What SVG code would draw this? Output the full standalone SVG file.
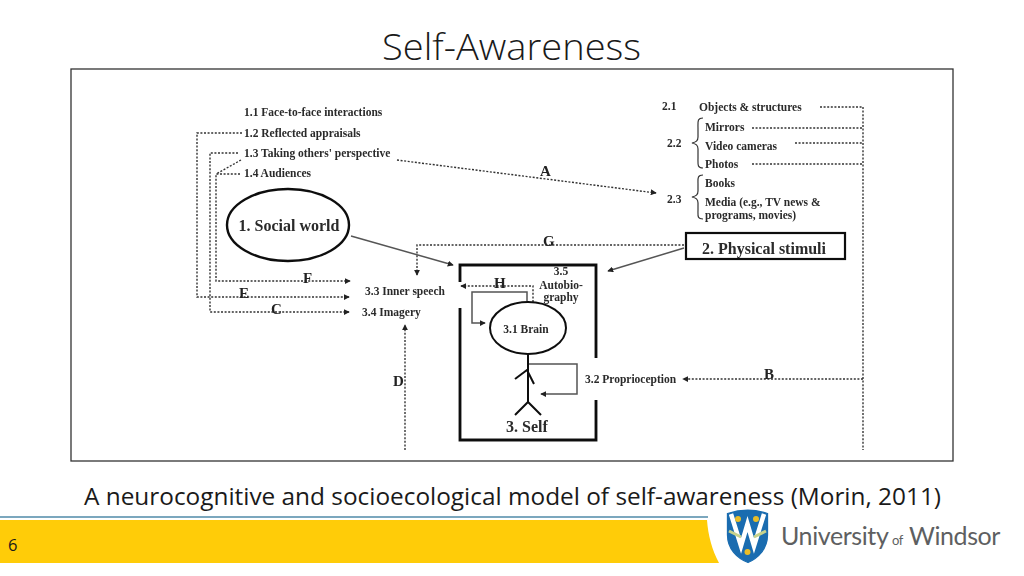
<svg xmlns="http://www.w3.org/2000/svg" width="1024" height="576" viewBox="0 0 1024 576">
<style>
.s{font-family:"Open Sans","Noto Sans",sans-serif;fill:#1a1a1a;font-variant-ligatures:none}
.t{font-family:"Liberation Serif",serif;fill:#2a2a2a;font-size:11.5px;font-weight:bold}
.big{font-size:16px}
.l{font-family:"Liberation Serif",serif;fill:#222;font-size:15px;font-weight:bold}
.d{fill:none;stroke:#333;stroke-width:1.4;stroke-dasharray:2 1.6}
.g{fill:none;stroke:#555;stroke-width:1.5}
.k{fill:none;stroke:#111;stroke-width:2.8}
.b{fill:none;stroke:#333;stroke-width:1.2}
</style>
<defs>
<marker id="a" viewBox="0 0 8 8" refX="7" refY="4" markerWidth="6" markerHeight="6" markerUnits="userSpaceOnUse" orient="auto"><path d="M0 0L8 4L0 8Z" fill="#222"/></marker>
<filter id="soft" x="-5%" y="-5%" width="110%" height="110%"><feGaussianBlur stdDeviation="0.45"/></filter>
</defs>
<rect width="1024" height="576" fill="#fff"/>
<text class="s" x="382" y="60" font-size="36" font-weight="300" textLength="259" lengthAdjust="spacingAndGlyphs" id="title">Self-Awareness</text>
<rect x="71" y="69" width="882" height="392" fill="#fff" stroke="#333" stroke-width="1.3"/>
<g filter="url(#soft)">
<g id="connectors">
<path class="d" d="M242 133H197V297H349" marker-end="url(#a)"/>
<path class="d" d="M238 153H210V312H349" marker-end="url(#a)"/>
<path class="d" d="M240 174H216V281H350" marker-end="url(#a)"/>
<path class="d" d="M241 160L216 174"/>
<path class="d" d="M397 160L656 193" marker-end="url(#a)"/>
<path class="d" d="M684 245H417V275" marker-end="url(#a)"/>
<path class="g" d="M684 248L608 271" marker-end="url(#a)"/>
<path class="g" d="M351 236L453 265" marker-end="url(#a)"/>
<path class="d" d="M533 302V286H461" marker-end="url(#a)"/>
<path class="g" d="M527 302V292H472V323H485" marker-end="url(#a)"/>
<path class="g" d="M528 364H577V394H541" marker-end="url(#a)"/>
<path class="d" d="M405 450V325" marker-end="url(#a)"/>
<path class="d" d="M863 379H683" marker-end="url(#a)"/>
<path class="d" d="M863 107V450"/>
<path class="d" d="M820 107H863M752 128H863M795 143H863M752 164H863"/>
</g>
<g id="labels-social">
<text class="t" x="244" y="116">1.1 Face-to-face interactions</text>
<text class="t" x="244" y="137">1.2 Reflected appraisals</text>
<text class="t" x="244" y="157">1.3 Taking others' perspective</text>
<text class="t" x="244" y="177">1.4 Audiences</text>
</g>
<g id="social-world">
<ellipse cx="288" cy="225" rx="61" ry="36" fill="#fff" stroke="#111" stroke-width="2.4"/>
<text class="t big" x="289" y="231" text-anchor="middle">1. Social world</text>
</g>
<g id="labels-physical">
<text class="t" x="662" y="110">2.1</text>
<text class="t" x="699" y="111">Objects &amp; structures</text>
<text class="t" x="705" y="131">Mirrors</text>
<text class="t" x="667" y="147">2.2</text>
<text class="t" x="705" y="150">Video cameras</text>
<text class="t" x="705" y="168">Photos</text>
<text class="t" x="705" y="187">Books</text>
<text class="t" x="667" y="203">2.3</text>
<text class="t" x="705" y="206">Media (e.g., TV news &amp;</text>
<text class="t" x="705" y="219">programs, movies)</text>
<path class="b" d="M703 118C697 118 698 122 698 128V137C698 141 696 142 692 143C696 144 698 145 698 149V158C698 164 697 168 703 168"/>
<path class="b" d="M703 175C697 175 698 179 698 184V191C698 195 696 196 692 197C696 198 698 199 698 203V210C698 216 697 219 703 219"/>
</g>
<g id="physical-stimuli">
<rect x="686" y="233" width="159" height="26" fill="#fff" stroke="#111" stroke-width="2.2"/>
<text class="t big" x="764" y="254" text-anchor="middle">2. Physical stimuli</text>
</g>
<g id="self">
<path class="k" d="M460 282V265H596V358M460 308V440H596V400"/>
<ellipse cx="528" cy="328" rx="38" ry="26" fill="#fff" stroke="#111" stroke-width="2"/>
<path fill="none" stroke="#111" stroke-width="2" d="M528 354V403M515 379L527 370L534 384M515 415L528 402L541 415"/>
<text class="t" x="526" y="333" text-anchor="middle">3.1 Brain</text>
<text class="t" x="561" y="275" text-anchor="middle">3.5</text>
<text class="t" x="561" y="289" text-anchor="middle">Autobio-</text>
<text class="t" x="561" y="301" text-anchor="middle">graphy</text>
<text class="t big" x="527" y="432" text-anchor="middle">3. Self</text>
<text class="t" x="365" y="295">3.3 Inner speech</text>
<text class="t" x="362" y="316">3.4 Imagery</text>
<text class="t" x="585" y="383">3.2 Proprioception</text>
</g>
<g id="letters">
<text class="l" x="540" y="176">A</text>
<text class="l" x="764" y="379">B</text>
<text class="l" x="271" y="314">C</text>
<text class="l" x="393" y="386">D</text>
<text class="l" x="239" y="298">E</text>
<text class="l" x="303" y="283">F</text>
<text class="l" x="543" y="246">G</text>
<text class="l" x="494" y="288">H</text>
</g>
</g>
<text class="s" x="84" y="505" font-size="24" textLength="857" lengthAdjust="spacingAndGlyphs" id="caption">A neurocognitive and socioecological model of self-awareness (Morin, 2011)</text>
<g id="footer">
<path d="M0 517H708" stroke="#4f8aa8" stroke-width="1.5"/>
<path d="M0 520H707C708 535 712 550 719 563H0Z" fill="#ffcc08"/>
<text class="s" x="8" y="551" font-size="16.5">6</text>
</g>
<g id="logo">
<path d="M727.5 513.5Q748 507 767.5 513.5V535C767.5 549 758 558 748 562.5C737 558 727.5 549 727.5 535Z" fill="#1a6cb0" stroke="#1a6cb0" stroke-width="1.3"/>
<path d="M731 514L741 546L747.5 524L754 546L764 514" fill="none" stroke="#fff" stroke-width="4.5"/>
<path d="M729 531L741 537M754 537L766 531" stroke="#c6d28c" stroke-width="3" fill="none"/>
<circle cx="738" cy="519" r="3" fill="#e9bd28"/><circle cx="756" cy="519" r="3" fill="#e9bd28"/><circle cx="747.5" cy="552" r="3" fill="#e9bd28"/>
<text font-family="Lato,'Noto Sans',sans-serif" fill="#5e5f61" y="545" font-size="25" letter-spacing="-0.4"><tspan x="781">University</tspan><tspan x="892" font-size="13">of</tspan><tspan x="909">Windsor</tspan></text>
</g>
</svg>
